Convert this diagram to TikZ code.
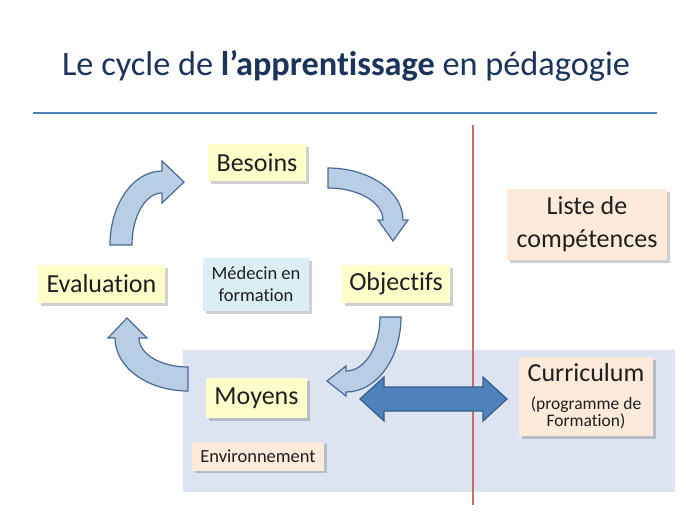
\documentclass[tikz,border=0pt]{standalone}
\usepackage{fontspec}
\setmainfont{Carlito}[RawFeature={-liga;-clig;-dlig;-calt;-rlig}]
\usetikzlibrary{shadows}
\newcommand{\nti}{t\kern0pt i}
\definecolor{titlec}{RGB}{28,52,92}
\definecolor{rulec}{RGB}{79,129,189}
\definecolor{redl}{RGB}{200,110,105}
\definecolor{zone}{RGB}{219,228,240}
\definecolor{yel}{RGB}{255,255,204}
\definecolor{cyanb}{RGB}{219,238,244}
\definecolor{peach}{RGB}{253,234,218}
\definecolor{arrfill}{RGB}{185,205,229}
\definecolor{arrdraw}{RGB}{74,106,150}
\definecolor{dblfill}{RGB}{79,129,189}
\definecolor{dbldraw}{RGB}{56,93,138}
\begin{document}
\begin{tikzpicture}[x=1pt,y=1pt,
  box/.style={inner sep=0pt, align=center, text=black!88,
    drop shadow={shadow xshift=2.5pt, shadow yshift=-2.5pt, opacity=0.3, fill=black!60}},
  bigtxt/.style={font=\fontsize{26}{33}\selectfont},
  smalltxt/.style={font=\fontsize{18.5}{22}\selectfont},
  curved/.style={fill=arrfill, draw=arrdraw, line width=1.2pt, line join=miter},
  dbl/.style={fill=dblfill, draw=dbldraw, line width=1.2pt, line join=miter}]
\useasboundingbox (0,0) rectangle (689,-517);
\fill[white] (0,0) rectangle (689,-517);
% title
\node[text=titlec, font=\fontsize{34.3}{40}\selectfont] (title) at (346,-66)
  {Le cycle de \textbf{l’appren\nti ssage} en pédagogie};
\coordinate (rl) at (33,-113);
\coordinate (rr) at (657,-113);
\draw[rulec, line width=2.5pt] (rl) -- (rr);
% zone
\fill[zone] (183,-350) rectangle (675,-492);
\coordinate (vt) at (473,-125);
\coordinate (vb) at (473,-505);
\draw[redl, line width=1.3pt] (vt) -- (vb);
% nodes
\node[box, bigtxt, fill=yel, minimum width=98pt, minimum height=37pt] (besoins) at (257,-162.5) {Besoins};
\node[box, bigtxt, fill=yel, minimum width=127pt, minimum height=38pt] (evaluation) at (101.5,-284) {Evalua\nti on};
\node[box, bigtxt, fill=yel, minimum width=108pt, minimum height=38pt] (objectifs) at (396,-284) {Objec\nti fs};
\node[box, bigtxt, fill=yel, minimum width=101pt, minimum height=40pt] (moyens) at (256.5,-398) {Moyens};
\node[box, smalltxt, fill=cyanb, minimum width=106pt, minimum height=53pt] (medecin) at (256,-284.5) {Médecin en\\forma\nti on};
\node[box, smalltxt, fill=peach, minimum width=132pt, minimum height=29pt] (env) at (258,-456) {Environnement};
\node[box, bigtxt, fill=peach, minimum width=160pt, minimum height=71pt] (liste) at (587,-224.5) {Liste de\\compétences};
\node[box, font=\fontsize{17.5}{17}\selectfont, fill=peach, minimum width=134pt, minimum height=79pt] (curri) at (586,-396.5)
  {{\fontsize{26}{26}\selectfont Curriculum}\\[11pt](programme de\\Forma\nti on)};
% curved arrows
\draw[curved] (110,-245) arc[start angle=180, end angle=90, x radius=52pt, y radius=74pt]
  -- (162,-161) -- (184,-182) -- (162,-203) -- (162,-193)
  arc[start angle=90, end angle=180, x radius=30pt, y radius=52pt] -- cycle;
\draw[curved] (328,-168) arc[start angle=90, end angle=0, x radius=75pt, y radius=52pt]
  -- (408,-220) -- (393,-241) -- (378,-220) -- (383,-220)
  arc[start angle=0, end angle=90, x radius=55pt, y radius=32pt] -- cycle;
\draw[curved] (401,-317) arc[start angle=0, end angle=-90, x radius=55pt, y radius=75pt]
  -- (346,-396) -- (327,-381) -- (346,-366) -- (346,-371)
  arc[start angle=-90, end angle=0, x radius=34pt, y radius=54pt] -- cycle;
\draw[curved] (188,-391) arc[start angle=270, end angle=180, x radius=73pt, y radius=53pt]
  -- (108,-338) -- (127,-318) -- (147,-338) -- (139,-338)
  arc[start angle=180, end angle=270, x radius=49pt, y radius=29pt] -- cycle;
% double arrow
\draw[dbl] (360,-399) -- (384,-377) -- (384,-387) -- (483,-387) -- (483,-377) -- (507,-399)
  -- (483,-421) -- (483,-411) -- (384,-411) -- (384,-421) -- cycle;
\end{tikzpicture}
\end{document}
